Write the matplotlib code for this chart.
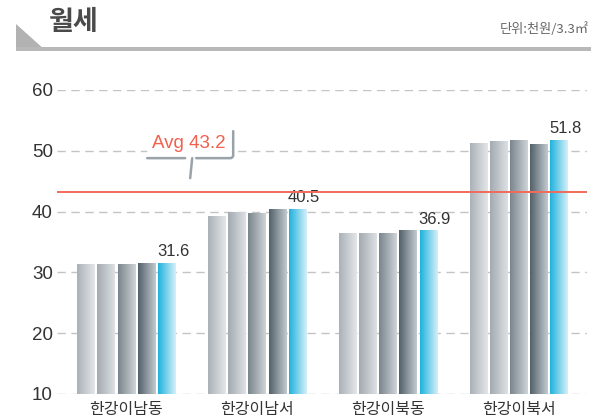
import numpy as np
import matplotlib
matplotlib.use("Agg")
import matplotlib.pyplot as plt
import matplotlib.transforms as mtransforms
from matplotlib.colors import to_rgb
from matplotlib.patches import Polygon, Rectangle, FancyBboxPatch
from matplotlib.path import Path
from matplotlib.patches import PathPatch

plt.rcParams['font.family'] = ['Liberation Sans', 'Noto Sans CJK KR', 'DejaVu Sans']
KR = ['Noto Sans CJK KR', 'DejaVu Sans']

# ---- data -------------------------------------------------------------
categories = ['한강이남동', '한강이남서', '한강이북동', '한강이북서']
period1 = [31.4, 39.3, 36.5, 51.3]
period2 = [31.4, 39.9, 36.5, 51.6]
period3 = [31.4, 39.8, 36.4, 51.7]
period4 = [31.6, 40.4, 36.9, 51.2]
period5 = [31.6, 40.5, 36.9, 51.8]
average = 43.2
y_ticks = [10, 20, 30, 40, 50, 60]
title = '월세'
unit = '단위:천원/3.3㎡'

series = [period1, period2, period3, period4, period5]
# (left/dark, right/light) colours of each bar's horizontal gradient
gradients = [('#aab1b7', '#e4e7e9'),
             ('#a3aab1', '#dde1e4'),
             ('#7a858d', '#cfd4d8'),
             ('#53616b', '#c3cacf'),
             ('#1fb2dd', '#d6f0f9')]

W, H = 591, 418
fig = plt.figure(figsize=(W / 100, H / 100), dpi=100)
fig.patch.set_facecolor('white')

ax = fig.add_axes([57 / W, (H - 394) / H, 530 / W, 304 / H])
ax.set_facecolor('none')

x = np.arange(len(categories))
step = 0.153
width = 0.13

# dashed grid
for t in y_ticks:
    ax.axhline(t, color='#c4c4c4', lw=1.0, ls=(0, (6, 4)), zorder=0)

def gradient_img(c0, c1, n=64):
    a = np.array(to_rgb(c0))
    b = np.array(to_rgb(c1))
    t = np.linspace(0, 1, n)[:, None]
    return (a + (b - a) * t)[None, :, :]

for i, (vals, (c0, c1)) in enumerate(zip(series, gradients)):
    offs = x + (i - 2) * step
    bars = ax.bar(offs, np.array(vals) - 10, width=width, bottom=10,
                  facecolor='none', edgecolor='none', zorder=2)
    img = gradient_img(c0, c1)
    for r in bars.patches:
        bx, by = r.get_x(), r.get_y()
        bw, bh = r.get_width(), r.get_height()
        im = ax.imshow(img, extent=[bx, bx + bw, by, by + bh],
                       aspect='auto', interpolation='bilinear', zorder=2)
        im.set_clip_path(r)

# value labels above the latest bar of each group
for xi, v in zip(x + 2 * step, period5):
    ax.annotate(f'{v:.1f}', (xi, v), xytext=(5, 2.5), textcoords='offset points',
                ha='center', va='bottom', fontsize=12, color='#333333')

# average line
ax.axhline(average, color='#f26a5a', lw=1.4, zorder=3)

# callout bubble for the average (coordinates in pixels, anchored at the tail tip)
anchor = mtransforms.ScaledTranslation(0.49, average, ax.transData)
px = mtransforms.Affine2D().scale(1 / 100) + fig.dpi_scale_trans + anchor
box = FancyBboxPatch((-43, 34), 86, 27, boxstyle='round,pad=0,rounding_size=3',
                     facecolor='white', edgecolor='none', transform=px, zorder=4)
ax.add_patch(box)
shadow_color = '#9aa3aa'
shadow = Path([(-43, 34), (-5, 34),
               (6, 34), (40, 34), (43, 34), (43, 37), (43, 61)],
              [Path.MOVETO, Path.LINETO,
               Path.MOVETO, Path.LINETO, Path.CURVE3, Path.CURVE3, Path.LINETO])
ax.add_patch(PathPatch(shadow, facecolor='none', edgecolor=shadow_color, lw=1.8,
                       transform=px, zorder=5, capstyle='round'))
tail = Path([(-5, 34), (0, 14), (6, 34)], [Path.MOVETO, Path.LINETO, Path.LINETO])
ax.add_patch(PathPatch(tail, facecolor='white', edgecolor='none', transform=px, zorder=4))
tail_line = Path([(2, 34), (0, 14)], [Path.MOVETO, Path.LINETO])
ax.add_patch(PathPatch(tail_line, facecolor='none', edgecolor=shadow_color, lw=1.8,
                       transform=px, zorder=5, capstyle='round'))
ax.text(-1.5, 48.5, f'Avg {average}', transform=px, ha='center', va='center',
        fontsize=13.5, color='#f2604f', zorder=6)

# axes styling
ax.set_xlim(-0.527, 3.52)
ax.set_ylim(10, 60)
ax.set_yticks(y_ticks)
ax.set_yticklabels([str(t) for t in y_ticks], fontsize=13.5, color='#333333')
ax.set_xticks(x)
ax.set_xticklabels(categories, fontsize=11.5, color='#333333', family=KR)
ax.tick_params(axis='both', length=0)
ax.tick_params(axis='y', pad=3)
ax.tick_params(axis='x', pad=5)
for s in ax.spines.values():
    s.set_visible(False)

# header: triangle marker, rule and title
def fpx(px_, py_):
    return (px_ / W, 1 - py_ / H)

fig.add_artist(Polygon([fpx(16, 24), fpx(16, 50), fpx(45, 50)], closed=True,
                       facecolor='#b2b2b2', edgecolor='none', transform=fig.transFigure))
fig.add_artist(Rectangle(fpx(16, 51), (W - 16) / W, 4 / H, facecolor='#b8b8b8',
                         edgecolor='none', transform=fig.transFigure))
fig.text(*fpx(49, 22), title, ha='left', va='center', fontsize=19.5, fontweight='bold',
         color='#4a4a4a', family=KR)
fig.text(*fpx(589, 29), unit, ha='right', va='center', fontsize=9.5,
         color='#666666', family=KR)

fig.savefig('out.png', dpi=100, facecolor='white')
